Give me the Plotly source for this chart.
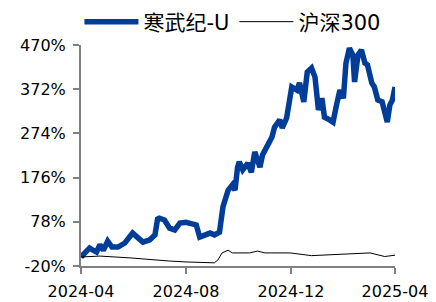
import plotly.graph_objects as go

# 寒武纪-U cumulative return (%)
cam_dates = ["2024-04-01","2024-04-07","2024-04-11","2024-04-15","2024-04-19","2024-04-23","2024-04-27",
    "2024-05-02","2024-05-07","2024-05-14","2024-05-22","2024-05-31","2024-06-06","2024-06-12","2024-06-20",
    "2024-06-26","2024-06-29","2024-07-01","2024-07-07","2024-07-13","2024-07-19","2024-07-25","2024-08-01",
    "2024-08-09","2024-08-13","2024-08-17","2024-08-23","2024-08-29","2024-09-03","2024-09-09","2024-09-13",
    "2024-09-19","2024-09-24","2024-09-27","2024-09-30","2024-10-02","2024-10-06","2024-10-12","2024-10-16",
    "2024-10-20","2024-10-26","2024-10-29","2024-11-04","2024-11-09","2024-11-12","2024-11-18","2024-11-21",
    "2024-11-26","2024-12-02","2024-12-08","2024-12-11","2024-12-16","2024-12-20","2024-12-25","2024-12-29",
    "2025-01-02","2025-01-06","2025-01-09","2025-01-15","2025-01-19","2025-01-23","2025-01-27","2025-01-31",
    "2025-02-03","2025-02-07","2025-02-11","2025-02-13","2025-02-17","2025-02-21","2025-02-25","2025-02-28",
    "2025-03-05","2025-03-08","2025-03-12","2025-03-17","2025-03-20","2025-03-23","2025-03-26","2025-03-29",
    "2025-04-01"]
cam_values = [0, 11, 20, 15, 11, 27, 15,
    35, 22, 22, 31, 53, 42, 33, 38,
    49, 84, 86, 82, 64, 60, 75, 77,
    75, 71, 44, 49, 53, 49, 55, 111,
    148, 160, 148, 199, 211, 193, 208, 188,
    233, 199, 226, 248, 266, 288, 304, 286,
    308, 377, 370, 386, 344, 410, 419, 399,
    326, 352, 310, 304, 299, 337, 370, 352,
    430, 463, 448, 388, 448, 459, 430, 426,
    386, 377, 348, 344, 326, 299, 337, 348,
    377]

# 沪深300 cumulative return (%)
hs_dates = ["2024-04-01","2024-04-23","2024-05-28","2024-06-26","2024-07-13","2024-08-01","2024-08-23",
    "2024-09-03","2024-09-07","2024-09-12","2024-09-19","2024-09-24","2024-10-14","2024-10-23","2024-11-01",
    "2024-11-30","2024-12-25","2025-02-02","2025-03-03","2025-03-20","2025-03-29","2025-04-01"]
hs_values = [0, 2, -2, -7, -9, -11, -13,
    -13, -7, 9, 15, 9, 9, 13, 9,
    9, 3, 7, 9, 1, 4, 4]

y_ticks = [-20, 78, 176, 274, 372, 470]
y_ticktext = ["-20%", "78%", "176%", "274%", "372%", "470%"]
x_ticks = ["2024-04-01", "2024-08-01", "2024-12-01", "2025-04-01"]
x_ticktext = ["2024-04", "2024-08", "2024-12", "2025-04"]

font_family = "DejaVu Sans, Noto Sans CJK SC, sans-serif"

fig = go.Figure()
fig.add_trace(go.Scatter(x=cam_dates, y=cam_values, mode="lines", name="寒武纪-U",
                         line=dict(color="#003d99", width=5.5)))
fig.add_trace(go.Scatter(x=hs_dates, y=hs_values, mode="lines", name="沪深300",
                         line=dict(color="#000000", width=1)))

fig.update_layout(
    width=436, height=302,
    margin=dict(l=81, r=41, t=45, b=36, autoexpand=False),
    paper_bgcolor="white", plot_bgcolor="white",
    font=dict(family=font_family, size=16, color="#000000"),
    showlegend=True,
    legend=dict(orientation="h", xref="paper", yref="paper",
                x=-0.005, xanchor="left", y=1.104, yanchor="middle",
                font=dict(size=21, family=font_family), itemwidth=54,
                bgcolor="rgba(0,0,0,0)"),
    xaxis=dict(range=["2024-04-01", "2025-04-01"], tickvals=x_ticks, ticktext=x_ticktext,
               showgrid=False, zeroline=False, showline=True, linecolor="#808080", linewidth=2,
               ticks="outside", ticklen=6, tickcolor="#808080", tickwidth=2,
               ticklabelstandoff=4, automargin=False),
    yaxis=dict(range=[-20, 470], tickvals=y_ticks, ticktext=y_ticktext,
               showgrid=False, zeroline=False, showline=True, linecolor="#808080", linewidth=2,
               ticks="outside", ticklen=6, tickcolor="#808080", tickwidth=2,
               ticklabelstandoff=4, automargin=False),
)

fig.write_html("out.html", config={"displayModeBar": False},
               post_script="document.body.style.margin='0';")
